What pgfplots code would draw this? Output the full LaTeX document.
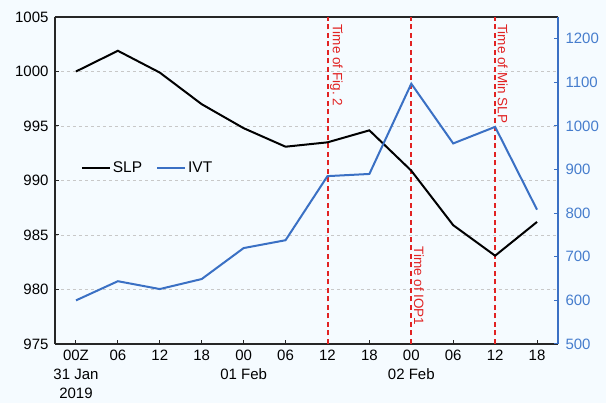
\documentclass[border=0pt]{standalone}
\usepackage{fontspec}
\setmainfont{Liberation Sans}
\usepackage{pgfplots}
\pgfplotsset{compat=1.18}
\definecolor{bg}{RGB}{245,251,255}
\definecolor{ivt}{RGB}{58,112,196}
\definecolor{ivtlab}{RGB}{70,125,205}
\definecolor{vred}{RGB}{225,35,35}
\definecolor{gridc}{RGB}{200,200,200}
\begin{document}
\begin{tikzpicture}
\fill[bg] (-55pt,-59pt) rectangle (551pt,344pt);
\begin{axis}[
  scale only axis, width=503pt, height=327pt,
  xmin=-0.5, xmax=11.5, ymin=975, ymax=1005,
  axis y line*=left,
  xtick pos=bottom,
  xtick={0,...,11},
  xticklabels={{00Z\\31 Jan\\2019},06,12,18,{00\\01 Feb},06,12,18,{00\\02 Feb},06,12,18},
  xticklabel style={align=center, font=\fontsize{15}{19}\selectfont, yshift=-2pt},
  ytick={975,980,...,1005},
  yticklabel style={font=\fontsize{15}{18}\selectfont, xshift=-3pt},
  /pgf/number format/assume math mode=true,
  /pgf/number format/1000 sep={},
  ymajorgrids, grid style={dashed, gridc, line width=0.8pt},
  major tick length=4pt,
  axis line style={-, line width=1.2pt, black!85},
  tick style={line width=1pt, black!85},
  legend style={draw=none, fill=none, at={(0.045,0.538)}, anchor=west, legend columns=2,
    font=\fontsize{15.5}{18}\selectfont, /tikz/every even column/.append style={column sep=12pt}},
  legend image code/.code={\draw[#1, line width=2pt] (0pt,0pt) -- (28pt,0pt);},
  clip=false,
]
\addplot[draw=vred, color=vred, line width=1.6pt, dash pattern=on 5pt off 3.5pt, forget plot] coordinates {(10,975) (10,1005)};
\addplot[draw=vred, color=vred, line width=1.6pt, dash pattern=on 5pt off 3.5pt, forget plot] coordinates {(8,975) (8,1005)};
\addplot[draw=vred, color=vred, line width=1.6pt, dash pattern=on 5pt off 3.5pt, forget plot] coordinates {(6.01,975) (6.01,1005)};
\addplot[black, line width=2pt] coordinates {
(0,1000.0) (1,1001.9) (2,999.9) (3,997.0) (4,994.8) (5,993.1)
(6,993.5) (7,994.6) (8,990.9) (9,985.9) (10,983.1) (11,986.2)};
\addlegendentry{SLP}
\addlegendimage{ivt}
\addlegendentry{IVT}
\node[rotate=-90, anchor=south west, text=vred, font=\fontsize{13.5}{16}\selectfont, inner sep=2.5pt] at (axis cs:6,1004.6) {Time of Fig.~2};
\node[rotate=-90, anchor=south west, text=vred, font=\fontsize{13.5}{16}\selectfont, inner sep=2.5pt] at (axis cs:8,984.2) {Time of IOP1};
\node[rotate=-90, anchor=south west, text=vred, font=\fontsize{13.5}{16}\selectfont, inner sep=2.5pt] at (axis cs:10,1004.6) {Time of Min SLP};
\end{axis}
\begin{axis}[
  scale only axis, width=503pt, height=327pt,
  xmin=-0.5, xmax=11.5, ymin=500, ymax=1250,
  axis x line=none, axis y line*=right,
  ytick={500,600,...,1200},
  yticklabel style={font=\fontsize{15}{18}\selectfont, text=ivtlab, xshift=4pt},
  /pgf/number format/assume math mode=true,
  /pgf/number format/1000 sep={},
  major tick length=4pt,
  axis line style={-, line width=1.5pt, ivt},
  tick style={line width=1pt, ivt},
]
\addplot[ivt, line width=2pt] coordinates {
(0,600) (1,644) (2,626) (3,649) (4,720) (5,738)
(6,885) (7,890) (8,1097) (9,960) (10,998) (11,808)};
\end{axis}
\end{tikzpicture}
\end{document}
